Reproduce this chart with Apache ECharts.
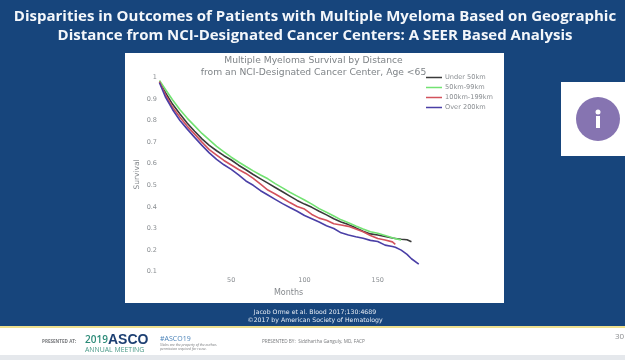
<!DOCTYPE html>
<html>
<head>
<meta charset="utf-8">
<style>
html,body{margin:0;padding:0;background:#17457c;}
#container{width:625px;height:360px;}
</style>
<script src="https://cdn.jsdelivr.net/npm/echarts@6/dist/echarts.min.js"></script>
</head>
<body>
<div id="container"></div>
<script>
var months = [1,5,10,15,20,25,30,35,40,45,50,55,60,65,70,75,80,85,90,95,100,105,110,115,120,125,130,135,140,145,150,155,160,162,166,167,170,173,178];
var under50 = [.98,.93,.875,.83,.787,.75,.715,.685,.66,.637,.617,.593,.572,.55,.53,.51,.49,.47,.45,.43,.413,.398,.38,.363,.345,.33,.318,.303,.287,.275,.27,.263,.256,.254,.25,.251,.248,.239,null];
var from50to99 = [.985,.945,.895,.85,.81,.775,.74,.71,.68,.655,.63,.608,.587,.567,.548,.53,.508,.488,.468,.45,.432,.413,.392,.375,.358,.34,.327,.312,.298,.285,.278,.268,.257,.253,.247,null,null,null,null];
var from100to199 = [.98,.92,.86,.815,.773,.737,.70,.665,.64,.615,.594,.573,.555,.532,.505,.478,.46,.44,.42,.402,.39,.365,.348,.338,.322,.316,.31,.298,.285,.268,.254,.247,.238,.227,null,null,null,null,null];
var over200 = [.975,.91,.85,.80,.76,.722,.685,.65,.62,.595,.574,.548,.52,.50,.475,.455,.435,.415,.397,.38,.36,.345,.33,.313,.30,.28,.27,.262,.255,.245,.24,.223,.217,.213,.2,.198,.18,.16,.135];
var seriesNames = ['Under 50km','50km-99km','100km-199km','Over 200km'];
var seriesColors = ['#3a3a3a','#72e272','#d2525c','#4a3fa6'];
var seriesValues = [under50,from50to99,from100to199,over200];

var slideTitle = 'Disparities in Outcomes of Patients with Multiple Myeloma Based on Geographic\nDistance from NCI-Designated Cancer Centers: A SEER Based Analysis';
var chartTitle = 'Multiple Myeloma Survival by Distance\nfrom an NCI-Designated Cancer Center, Age <65';

var myChart = echarts.init(document.getElementById('container'));

function pairs(values){
    var out = [];
    values.forEach(function(v,i){
        if(v !== null) out.push([months[i],v]);
    });
    return out;
}

function label(x,y,text,size,color,extra){
    var style = {x:x,y:y,text:text,fontSize:size,fill:color,fontFamily:'"Open Sans"',textVerticalAlign:'middle'};
    for(var k in (extra||{})) style[k] = extra[k];
    return {type:'text',z:1,style:style};
}

var option = {
    animation:false,
    backgroundColor:'#17457c',
    title:[{
        text:slideTitle,left:310,top:2,textAlign:'center',
        textStyle:{color:'#f4f7fb',fontFamily:'"Open Sans"',fontWeight:'bold',fontSize:15,lineHeight:19}
    },{
        text:chartTitle,left:308.5,top:50,textAlign:'center',
        textStyle:{color:'#7f8488',fontFamily:'"DejaVu Sans"',fontWeight:'normal',fontSize:9.2,lineHeight:12}
    }],
    legend:{
        data:seriesNames,orient:'vertical',left:426,top:65,
        backgroundColor:'#fff',padding:[9,2,2,0],
        itemWidth:16,itemHeight:1.5,itemGap:3,z:8,icon:'rect',
        textStyle:{color:'#8a8e92',fontFamily:'"DejaVu Sans"',fontSize:6.6,padding:[0,0,0,-2]}
    },
    grid:{left:158,right:174,top:77.3,bottom:88.3},
    xAxis:{
        type:'value',min:0,max:200,interval:50,
        name:'Months',nameLocation:'middle',nameGap:16,
        nameTextStyle:{color:'#85898d',fontFamily:'"DejaVu Sans"',fontSize:8,padding:[0,32,0,0]},
        axisLine:{show:false},axisTick:{show:false},splitLine:{show:false},
        axisLabel:{margin:5,color:'#8a8e92',fontFamily:'"DejaVu Sans"',fontSize:6.5,showMinLabel:false,showMaxLabel:false}
    },
    yAxis:{
        type:'value',min:0.1,max:1,interval:0.1,
        name:'Survival',nameLocation:'middle',nameGap:17,
        nameTextStyle:{color:'#85898d',fontFamily:'"DejaVu Sans"',fontSize:7.5},
        axisLine:{show:false},axisTick:{show:false},splitLine:{show:false},
        axisLabel:{margin:1,color:'#8a8e92',fontFamily:'"DejaVu Sans"',fontSize:6.5}
    },
    graphic:[
        {type:'rect',z:0,shape:{x:125,y:53,width:379,height:250},style:{fill:'#fff'}},
        {type:'rect',z:0,shape:{x:0,y:326,width:625,height:29},style:{fill:'#fff'}},
        {type:'rect',z:0,shape:{x:0,y:326,width:625,height:2},style:{fill:'#f0e08e'}},
        {type:'rect',z:0,shape:{x:0,y:355,width:625,height:5},style:{fill:'#e5e8ec'}},
        {type:'rect',z:0,shape:{x:561,y:82,width:64,height:74},style:{fill:'#fff'}},
        {type:'circle',z:1,shape:{cx:598,cy:119,r:22},style:{fill:'#8674b1'}},
        {type:'circle',z:2,shape:{cx:598,cy:112,r:2.5},style:{fill:'#fff'}},
        {type:'rect',z:2,shape:{x:596,y:116,width:4,height:12},style:{fill:'#fff'}},
        label(315,312,'Jacob Orme et al. Blood 2017;130:4689',6.2,'#e6ecf4',{textAlign:'center',fontFamily:'"DejaVu Sans"'}),
        label(315,320,'\u00a92017 by American Society of Hematology',6.2,'#e6ecf4',{textAlign:'center',fontFamily:'"DejaVu Sans"'}),
        label(42,342,'PRESENTED AT:',4.6,'#77797c',{fontWeight:'bold'}),
        label(85,340,'2019',10,'#2b8a77',{fontWeight:600}),
        label(108,340,'ASCO',14,'#1c3f72',{fontWeight:'bold',fontFamily:'"Liberation Sans"'}),
        label(85,350,'ANNUAL MEETING',6.9,'#4a9a88'),
        label(160,339,'#ASCO19',7,'#4a82b8'),
        label(160,345,'Slides are the property of the author,',3.5,'#77797c',{fontStyle:'italic'}),
        label(160,349,'permission required for reuse.',3.5,'#77797c',{fontStyle:'italic'}),
        label(262,342,'PRESENTED BY:  Siddhartha Ganguly, MD, FACP',4.7,'#77797c'),
        label(615,337,'30',8,'#8a8c8f')
    ],
    series:seriesValues.map(function(values,i){
        return {
            name:seriesNames[i],type:'line',data:pairs(values),
            showSymbol:false,symbol:'none',smooth:false,
            lineStyle:{color:seriesColors[i],width:1.6},
            itemStyle:{color:seriesColors[i]}
        };
    })
};
myChart.setOption(option);
</script>
</body>
</html>
